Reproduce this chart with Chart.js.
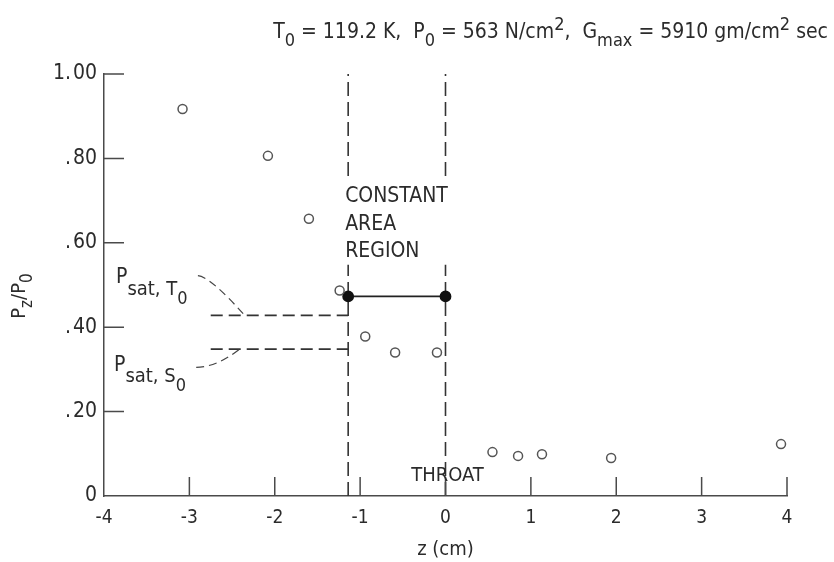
<!DOCTYPE html>
<html>
<head>
<meta charset="utf-8">
<script src="https://cdn.jsdelivr.net/npm/chart.js@4"></script>
<style>
  html, body { margin: 0; padding: 0; background: #fff; }
  #wrap { width: 834px; height: 562px; }
</style>
</head>
<body>
<div id="wrap"><canvas id="pressureChart" width="834" height="562"></canvas></div>
<script>
// measured static pressure along the nozzle
const zMeasured = [-3.08, -2.08, -1.60, -1.24, -0.94, -0.59, -0.10, 0.55, 0.85, 1.13, 1.94, 3.93];
const pMeasured = [0.917, 0.806, 0.657, 0.487, 0.378, 0.340, 0.340, 0.104, 0.095, 0.099, 0.090, 0.123];

// constant area region, inlet to throat
const zRegion = [-1.14, 0];
const pRegion = [0.473, 0.473];

// saturation pressures
const psatT0 = 0.428;
const psatS0 = 0.348;
const zPsatStart = -2.75;

const xTicks = [-4, -3, -2, -1, 0, 1, 2, 3, 4];
const yTicks = [0, 0.2, 0.4, 0.6, 0.8, 1.0];
const yTickLabels = ['0', '.\u200a20', '.\u200a40', '.\u200a60', '.\u200a80', '1.\u200a00'];

const FONT = '"Liberation Sans Narrow", "DejaVu Sans Condensed", "Arial Narrow", sans-serif';
const INK = '#2b2b2b';
const LINE = '#4a4a4a';

function pts(xs, ys) {
    return xs.map((x, i) => ({x: x, y: ys[i]}));
}

// text runs: [text, fontSize, baselineShift]
function drawRuns(ctx, runs, x, y, align) {
    let w = 0;
    runs.forEach(r => {
        ctx.font = r[1] + 'px ' + FONT;
        w += ctx.measureText(r[0]).width;
    });
    let cx = align === 'right' ? x - w : align === 'center' ? x - w / 2 : x;
    ctx.textAlign = 'left';
    ctx.textBaseline = 'alphabetic';
    runs.forEach(r => {
        ctx.font = r[1] + 'px ' + FONT;
        ctx.fillText(r[0], cx, y + r[2]);
        cx += ctx.measureText(r[0]).width;
    });
}

const annotations = {
    id: 'annotations',
    afterDatasetsDraw(chart) {
        const ctx = chart.ctx;
        const xs = chart.scales.x, ys = chart.scales.y;
        const px = v => xs.getPixelForValue(v);
        const py = v => ys.getPixelForValue(v);
        const area = chart.chartArea;
        ctx.save();

        // inward ticks
        ctx.strokeStyle = LINE;
        ctx.lineWidth = 1.5;
        ctx.beginPath();
        xTicks.slice(1).forEach(t => {
            ctx.moveTo(px(t), area.bottom);
            ctx.lineTo(px(t), area.bottom - 19);
        });
        yTicks.slice(1).forEach(t => {
            ctx.moveTo(area.left, py(t));
            ctx.lineTo(area.left + 20, py(t));
        });
        ctx.stroke();

        // region label, blanking the boundary lines behind it
        const lx = px(zRegion[0]);
        ctx.fillStyle = '#fff';
        ctx.fillRect(lx - 6, py(0.752), px(zRegion[1]) - lx + 14, py(0.548) - py(0.752));
        ctx.fillStyle = INK;
        ctx.font = '21px ' + FONT;
        ctx.textAlign = 'left';
        ctx.textBaseline = 'alphabetic';
        ['CONSTANT', 'AREA', 'REGION'].forEach((s, i) => {
            ctx.fillText(s, lx - 3, py(0.696) + i * 27.5);
        });

        // throat label
        ctx.font = '20px ' + FONT;
        ctx.textAlign = 'center';
        ctx.fillText('THROAT', px(0) + 2, py(0.036));

        // saturation labels and leaders
        drawRuns(ctx, [['P', 21, 0], ['sat, T', 20, 12], ['0', 18, 21]], 116, py(0.504), 'left');
        drawRuns(ctx, [['P', 21, 0], ['sat, S', 20, 11], ['0', 18, 20]], 114, py(0.296), 'left');

        ctx.strokeStyle = '#444';
        ctx.setLineDash([8, 5]);
        ctx.lineWidth = 1.2;
        ctx.beginPath();
        ctx.moveTo(px(-2.90), py(0.522));
        ctx.quadraticCurveTo(px(-2.76), py(0.520), px(-2.37), py(0.432));
        ctx.moveTo(px(-2.92), py(0.305));
        ctx.quadraticCurveTo(px(-2.68), py(0.305), px(-2.40), py(0.350));
        ctx.stroke();
        ctx.setLineDash([]);

        // heading
        ctx.fillStyle = INK;
        drawRuns(ctx, [
            ['T', 21, 0], ['0', 18, 8], [' = 119.2 K,  P', 21, 0], ['0', 18, 8],
            [' = 563 N/cm', 21, 0], ['2', 18, -8], [',  G', 21, 0], ['max', 18, 8],
            [' = 5910 gm/cm', 21, 0], ['2', 18, -8], [' sec', 21, 0]
        ], 828, 38, 'right');

        // axis titles
        ctx.font = '20px ' + FONT;
        ctx.textAlign = 'center';
        ctx.fillText('z (cm)', px(0), 555);

        ctx.translate(25, 296);
        ctx.rotate(-Math.PI / 2);
        drawRuns(ctx, [['P', 20, 0], ['z', 17, 7], ['/P', 20, 0], ['0', 17, 7]], 0, 0, 'center');
        ctx.restore();
    }
};

const ctx = document.getElementById('pressureChart').getContext('2d');
const chart = new Chart(ctx, {
    type: 'scatter',
    data: {
        datasets: [{
            label: 'measured',
            data: pts(zMeasured, pMeasured),
            pointStyle: 'circle',
            pointRadius: 4.5,
            pointBorderWidth: 1.5,
            pointBorderColor: '#555',
            pointBackgroundColor: 'rgba(0,0,0,0)',
            showLine: false
        }, {
            label: 'constant area',
            data: pts(zRegion, pRegion),
            showLine: true,
            borderColor: '#222',
            borderWidth: 1.8,
            pointRadius: 5,
            pointBackgroundColor: '#111',
            pointBorderColor: '#111'
        }, {
            label: 'psat T0',
            data: pts([zPsatStart, zRegion[0]], [psatT0, psatT0]),
            showLine: true,
            borderColor: '#333',
            borderWidth: 1.8,
            borderDash: [12, 6],
            pointRadius: 0
        }, {
            label: 'psat S0',
            data: pts([zPsatStart, zRegion[0]], [psatS0, psatS0]),
            showLine: true,
            borderColor: '#333',
            borderWidth: 1.8,
            borderDash: [12, 6],
            pointRadius: 0
        }, {
            label: 'inlet',
            data: pts([zRegion[0], zRegion[0]], [0, 1]),
            showLine: true,
            borderColor: '#333',
            borderWidth: 1.6,
            borderDash: [14, 6],
            pointRadius: 0
        }, {
            label: 'throat',
            data: pts([zRegion[1], zRegion[1]], [0, 1]),
            showLine: true,
            borderColor: '#333',
            borderWidth: 1.6,
            borderDash: [14, 6],
            pointRadius: 0
        }]
    },
    options: {
        responsive: false,
        animation: false,
        events: [],
        layout: { padding: { top: 74, right: 47, left: 0, bottom: 0 } },
        plugins: { legend: { display: false }, tooltip: { enabled: false } },
        scales: {
            x: {
                type: 'linear',
                min: -4, max: 4,
                afterFit(scale) { scale.height = 66; },
                afterBuildTicks(scale) { scale.ticks = xTicks.map(v => ({value: v})); },
                grid: { display: true, drawOnChartArea: false, drawTicks: false },
                border: { display: true, color: LINE, width: 1.5 },
                ticks: {
                    padding: 11,
                    color: INK,
                    font: { family: FONT, size: 19 },
                    callback: v => String(v)
                }
            },
            y: {
                type: 'linear',
                min: 0, max: 1,
                afterFit(scale) { scale.width = 104; },
                afterBuildTicks(scale) { scale.ticks = yTicks.map(v => ({value: v})); },
                grid: { display: true, drawOnChartArea: false, drawTicks: false },
                border: { display: true, color: LINE, width: 1.5 },
                ticks: {
                    padding: 7,
                    color: INK,
                    font: { family: FONT, size: 21 },
                    callback: (v, i) => yTickLabels[i]
                }
            }
        }
    },
    plugins: [annotations]
});
</script>
</body>
</html>
